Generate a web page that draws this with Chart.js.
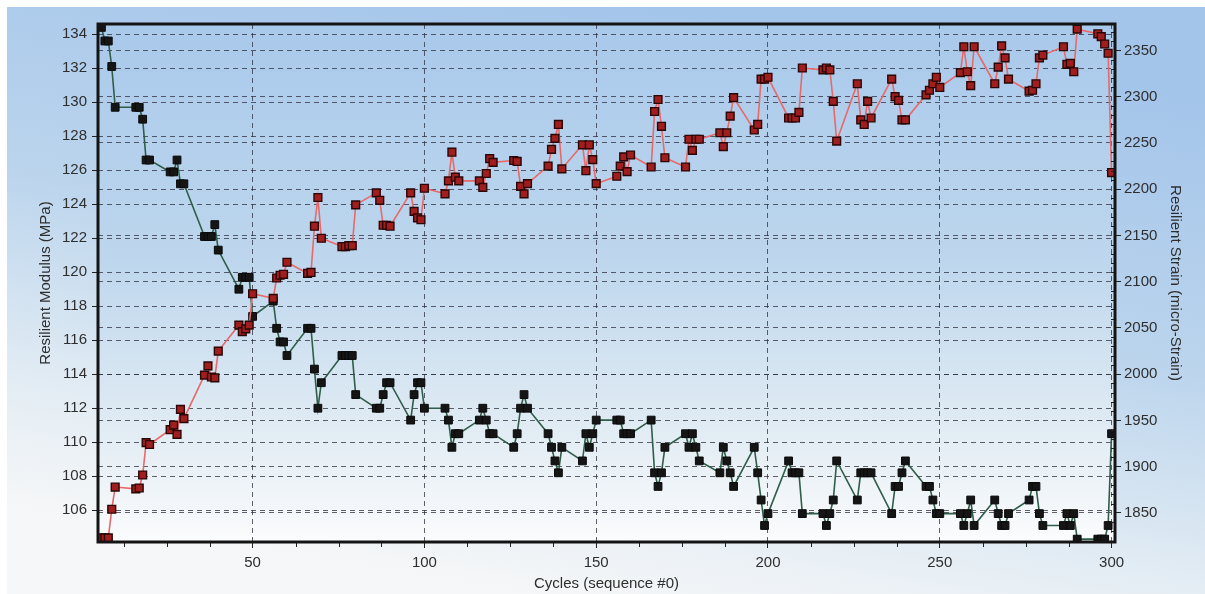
<!DOCTYPE html>
<html lang="en">
<head>
<meta charset="UTF-8">
<title>Resilient Modulus / Resilient Strain vs Cycles</title>
<script src="https://cdn.jsdelivr.net/npm/chart.js"></script>
<style>
    html, body {
        margin: 0;
        padding: 0;
        background: #fff;
    }
    .wrap {
        width: 1205px;
        height: 594px;
    }
</style>
</head>
<body>
<div class="wrap"><canvas id="chart" width="1205" height="594"></canvas></div>
<script>
// loading cycles: five sequences at the end of every block of ten
const cycles = [
    6, 7, 8, 9, 10, 16, 17, 18, 19, 20, 26, 27, 28, 29, 30,
    36, 37, 38, 39, 40, 46, 47, 48, 49, 50, 56, 57, 58, 59, 60,
    66, 67, 68, 69, 70, 76, 77, 78, 79, 80, 86, 87, 88, 89, 90,
    96, 97, 98, 99, 100, 106, 107, 108, 109, 110, 116, 117, 118, 119, 120,
    126, 127, 128, 129, 130, 136, 137, 138, 139, 140, 146, 147, 148, 149, 150,
    156, 157, 158, 159, 160, 166, 167, 168, 169, 170, 176, 177, 178, 179, 180,
    186, 187, 188, 189, 190, 196, 197, 198, 199, 200, 206, 207, 208, 209, 210,
    216, 217, 218, 219, 220, 226, 227, 228, 229, 230, 236, 237, 238, 239, 240,
    246, 247, 248, 249, 250, 256, 257, 258, 259, 260, 266, 267, 268, 269, 270,
    276, 277, 278, 279, 280, 286, 287, 288, 289, 290, 296, 297, 298, 299, 300
];

// Resilient Modulus (MPa), left axis
const modulus = [
    134.4, 133.6, 133.6, 132.1, 129.7, 129.7, 129.7, 129.0, 126.6, 126.6,
    125.9, 125.9, 126.6, 125.2, 125.2, 122.1, 122.1, 122.1, 122.8, 121.3,
    119.0, 119.7, 119.7, 119.7, 117.4, 118.3, 116.7, 115.9, 115.9, 115.1,
    116.7, 116.7, 114.3, 112.0, 113.5, 115.1, 115.1, 115.1, 115.1, 112.8,
    112.0, 112.0, 112.8, 113.5, 113.5, 111.3, 112.8, 113.5, 113.5, 112.0,
    112.0, 111.3, 109.7, 110.5, 110.5, 111.3, 112.0, 111.3, 110.5, 110.5,
    109.7, 110.5, 112.0, 112.8, 112.0, 110.5, 109.7, 108.9, 108.2, 109.7,
    108.9, 110.5, 109.7, 110.5, 111.3, 111.3, 111.3, 110.5, 110.5, 110.5,
    111.3, 108.2, 107.4, 108.2, 109.7, 110.5, 109.7, 110.5, 109.7, 108.9,
    108.2, 109.7, 108.9, 108.2, 107.4, 109.7, 108.2, 106.6, 105.1, 105.8,
    108.9, 108.2, 108.2, 108.2, 105.8, 105.8, 105.1, 105.8, 106.6, 108.9,
    106.6, 108.2, 108.2, 108.2, 108.2, 105.8, 107.4, 107.4, 108.2, 108.9,
    107.4, 107.4, 106.6, 105.8, 105.8, 105.8, 105.1, 105.8, 106.6, 105.1,
    106.6, 105.8, 105.1, 105.1, 105.8, 106.6, 107.4, 107.4, 105.8, 105.1,
    105.1, 105.8, 105.1, 105.8, 104.3, 104.3, 104.3, 104.3, 105.1, 110.5
];

// Resilient Strain (micro-Strain), right axis
const strain = [
    1823, 1823, 1823, 1854, 1878, 1876, 1877, 1891, 1926, 1924,
    1940, 1945, 1935, 1962, 1952, 1999, 2009, 1997, 1996, 2025,
    2053, 2046, 2049, 2053, 2087, 2082, 2104, 2107, 2108, 2121,
    2109, 2110, 2160, 2191, 2147, 2138, 2138, 2139, 2139, 2183,
    2196, 2188, 2161, 2161, 2160, 2196, 2176, 2169, 2167, 2201,
    2195, 2209, 2240, 2213, 2209, 2209, 2202, 2217, 2233, 2229,
    2231, 2230, 2203, 2195, 2206, 2225, 2243, 2255, 2270, 2222,
    2248, 2220, 2248, 2232, 2206, 2214, 2225, 2235, 2219, 2237,
    2224, 2284, 2297, 2268, 2234, 2224, 2254, 2242, 2254, 2254,
    2261, 2246, 2261, 2279, 2299, 2264, 2270, 2319, 2319, 2321,
    2277, 2277, 2277, 2283, 2331, 2329, 2331, 2329, 2295, 2252,
    2314, 2275, 2270, 2295, 2277, 2319, 2300, 2296, 2275, 2275,
    2302, 2307, 2314, 2321, 2310, 2326, 2354, 2327, 2312, 2354,
    2314, 2332, 2355, 2342, 2319, 2306, 2307, 2314, 2342, 2345,
    2354, 2335, 2336, 2327, 2373, 2368, 2365, 2357, 2347, 2218
];

const xTicks = [50, 100, 150, 200, 250, 300];
const modulusTicks = [106, 108, 110, 112, 114, 116, 118, 120, 122, 124, 126, 128, 130, 132, 134];
const strainTicks = [1850, 1900, 1950, 2000, 2050, 2100, 2150, 2200, 2250, 2300, 2350];

const FONT = 'Liberation Sans, Arial, sans-serif';
const TEXT = '#2e2e2e';
const GRID = 'rgba(45, 45, 60, 0.75)';

// page and plot background gradients
const backdrop = {
    id: 'backdrop',
    beforeDraw(chart) {
        const { ctx, chartArea: a, width, height } = chart;
        ctx.save();
        ctx.fillStyle = '#ffffff';
        ctx.fillRect(0, 0, width, height);
        const g = ctx.createLinearGradient(width / 2, 0, width / 2 - 100, height);
        g.addColorStop(0, '#a4c5ea');
        g.addColorStop(0.45, '#bcd5ed');
        g.addColorStop(0.8, '#e4edf4');
        g.addColorStop(1, '#f6f7f8');
        ctx.fillStyle = g;
        ctx.fillRect(7, 7, width - 7, height - 7);
        const p = ctx.createLinearGradient(0, a.top, 0, a.bottom);
        p.addColorStop(0, '#a9c9eb');
        p.addColorStop(0.45, '#bdd6ed');
        p.addColorStop(0.8, '#e3edf4');
        p.addColorStop(1, '#fbfcfd');
        ctx.fillStyle = p;
        ctx.fillRect(a.left, a.top, a.right - a.left, a.bottom - a.top);
        ctx.restore();
    }
};

// frame round the plot and the small unlabelled ticks
const frame = {
    id: 'frame',
    afterDraw(chart) {
        const { ctx, chartArea: a, scales } = chart;
        ctx.save();
        ctx.strokeStyle = '#222';
        ctx.lineWidth = 1;
        ctx.beginPath();
        for (let v = 12.5; v < 301; v += 12.5) {
            if (v % 50 === 0) continue;
            const x = Math.round(scales.x.getPixelForValue(v)) + 0.5;
            ctx.moveTo(x, a.bottom);
            ctx.lineTo(x, a.bottom + 5);
        }
        for (let v = 1820; v < 2378; v += 10) {
            if (v % 50 === 0) continue;
            const y = Math.round(scales.y1.getPixelForValue(v)) + 0.5;
            ctx.moveTo(a.right - 4, y);
            ctx.lineTo(a.right, y);
        }
        ctx.stroke();
        ctx.strokeStyle = '#141414';
        ctx.lineWidth = 3;
        ctx.strokeRect(a.left, a.top, a.right - a.left, a.bottom - a.top);
        ctx.restore();
    }
};

function fixedTicks(list) {
    return scale => { scale.ticks = list.map(v => ({ value: v })); };
}

const tickFont = { family: FONT, size: 15 };
const titleFont = { family: FONT, size: 15 };

new Chart(document.getElementById('chart'), {
    type: 'line',
    data: {
        datasets: [
            {
                label: 'Resilient Strain',
                data: cycles.map((c, i) => ({ x: c, y: strain[i] })),
                yAxisID: 'y1',
                borderColor: '#e8696a',
                borderWidth: 1.6,
                pointStyle: 'rect',
                pointRadius: 5.5,
                pointBackgroundColor: '#a01e1e',
                pointBorderColor: '#2a0606',
                pointBorderWidth: 1.4,
                tension: 0
            },
            {
                label: 'Resilient Modulus',
                data: cycles.map((c, i) => ({ x: c, y: modulus[i] })),
                yAxisID: 'y',
                borderColor: '#2f5d48',
                borderWidth: 1.6,
                pointStyle: 'rect',
                pointRadius: 5.5,
                pointBackgroundColor: '#151515',
                pointBorderColor: '#0a0a0a',
                pointBorderWidth: 1,
                tension: 0
            }
        ]
    },
    options: {
        responsive: false,
        animation: false,
        layout: { padding: { top: 24, left: 0, right: 0, bottom: 0 } },
        plugins: {
            legend: { display: false },
            tooltip: { enabled: false }
        },
        scales: {
            x: {
                type: 'linear',
                min: 5,
                max: 301,
                afterBuildTicks: fixedTicks(xTicks),
                afterFit: s => { s.height = 52; },
                ticks: {
                    font: tickFont, color: TEXT, padding: 6, maxRotation: 0,
                    callback: v => String(v)
                },
                grid: { color: GRID, lineWidth: 1, tickLength: 6, tickColor: '#222', borderDash: [5, 4] },
                border: { display: false, dash: [5, 4] },
                title: {
                    display: true, text: 'Cycles (sequence #0)',
                    font: titleFont, color: TEXT, padding: { top: 0, bottom: 1 }
                }
            },
            y: {
                position: 'left',
                min: 104.13,
                max: 134.6,
                afterBuildTicks: fixedTicks(modulusTicks),
                afterFit: s => { s.width = 98; },
                ticks: { font: tickFont, color: TEXT, padding: 5, callback: v => String(v) },
                grid: { color: GRID, lineWidth: 1, tickLength: 6, tickColor: '#222', borderDash: [5, 4] },
                border: { display: false, dash: [5, 4] },
                title: {
                    display: true, text: 'Resilient Modulus (MPa)',
                    font: titleFont, color: TEXT, padding: { top: 37, bottom: 0 }
                }
            },
            y1: {
                position: 'right',
                min: 1818.6,
                max: 2378.6,
                afterBuildTicks: fixedTicks(strainTicks),
                afterFit: s => { s.width = 90; },
                ticks: { font: tickFont, color: TEXT, padding: 3, callback: v => String(v) },
                grid: { color: GRID, lineWidth: 1, tickLength: 6, tickColor: '#222', borderDash: [5, 4] },
                border: { display: false, dash: [5, 4] },
                title: {
                    display: true, text: 'Resilient Strain (micro-Strain)',
                    font: titleFont, color: TEXT, padding: { top: 21, bottom: 0 }
                }
            }
        }
    },
    plugins: [backdrop, frame]
});
</script>
</body>
</html>
